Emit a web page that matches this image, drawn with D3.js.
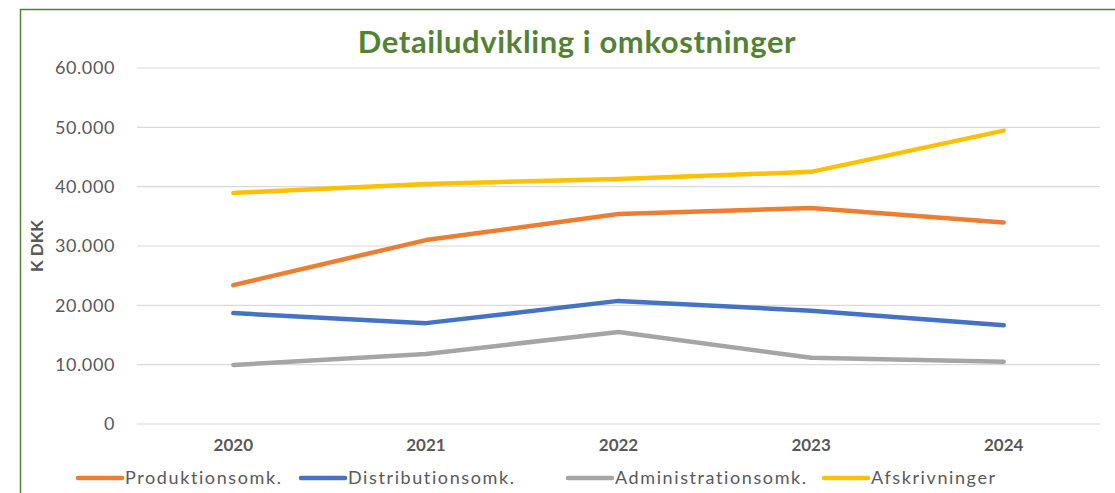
<!DOCTYPE html>
<html>
<head>
<meta charset="utf-8">
<script src="https://cdn.jsdelivr.net/npm/d3@7"></script>
<style>
  body { margin: 0; background: #fff; }
  svg { display: block; font-family: Lato, "Open Sans", sans-serif; }
</style>
</head>
<body>
<div id="chart"></div>
<script>
// data
const years = ["2020", "2021", "2022", "2023", "2024"];
const seriesNames = ["Produktionsomk.", "Distributionsomk.", "Administrationsomk.", "Afskrivninger"];
const produktion = [23400, 31000, 35400, 36400, 33950];
const distribution = [18700, 17000, 20750, 19100, 16650];
const administration = [9950, 11800, 15500, 11150, 10500];
const afskrivninger = [38950, 40450, 41300, 42500, 49450];
const yTicks = [0, 10000, 20000, 30000, 40000, 50000, 60000];
const colors = ["#ed7d31", "#4472c4", "#a5a5a5", "#ffc000"];

const allSeries = [produktion, distribution, administration, afskrivninger];

const W = 1115, H = 493;
const margin = { top: 68, right: 15, bottom: 69, left: 137 };
const width = 1100 - margin.left;
const height = 424 - margin.top;

const svg = d3.select("#chart").append("svg")
    .attr("width", W)
    .attr("height", H);

// chart border
svg.append("rect")
    .attr("x", 20.5).attr("y", 9.5)
    .attr("width", 1120).attr("height", 500)
    .attr("fill", "none")
    .attr("stroke", "#548235")
    .attr("stroke-width", 1.5);

svg.append("text")
    .attr("x", 577)
    .attr("y", 53)
    .attr("text-anchor", "middle")
    .style("font-size", "31px")
    .style("font-weight", "bold")
    .style("letter-spacing", "0.6px")
    .style("fill", "#548235")
    .text("Detailudvikling i omkostninger");

const g = svg.append("g")
    .attr("transform", `translate(${margin.left},${margin.top})`);

const x = d3.scaleBand().domain(years).range([0, width]);
const y = d3.scaleLinear().domain([0, 60000]).range([height, 0]);

const fmt = d => d === 0 ? "0" : d3.format(",")(d).replace(/,/g, ".");

// gridlines
g.append("g")
    .selectAll("line")
    .data(yTicks)
    .join("line")
    .attr("x1", 0).attr("x2", width)
    .attr("y1", d => y(d)).attr("y2", d => y(d))
    .attr("stroke", "#d9d9d9")
    .attr("stroke-width", 1.2);

const yAxis = g.append("g")
    .call(d3.axisLeft(y).tickValues(yTicks).tickFormat(fmt).tickSize(0).tickPadding(22));
yAxis.select(".domain").remove();
yAxis.selectAll("text")
    .style("font-size", "18px")
    .style("letter-spacing", "0.6px")
    .style("fill", "#595959")
    .style("font-family", "Lato, sans-serif");

const xAxis = g.append("g")
    .attr("transform", `translate(0,${height})`)
    .call(d3.axisBottom(x).tickSize(0).tickPadding(15));
xAxis.select(".domain").remove();
xAxis.selectAll("text")
    .style("font-size", "17px")
    .style("font-weight", "bold")
    .style("fill", "#595959")
    .style("font-family", "Lato, sans-serif");

svg.append("text")
    .attr("transform", "translate(43,246) rotate(-90)")
    .attr("text-anchor", "middle")
    .style("font-size", "17px")
    .style("font-weight", "bold")
    .style("fill", "#595959")
    .text("K DKK");

const line = d3.line()
    .x((d, i) => x(years[i]) + x.bandwidth() / 2)
    .y(d => y(d));

// draw grey first, then blue, orange, yellow on top
[2, 1, 0, 3].forEach(i => {
    g.append("path")
        .datum(allSeries[i])
        .attr("fill", "none")
        .attr("stroke", colors[i])
        .attr("stroke-width", 4.5)
        .attr("stroke-linecap", "round")
        .attr("stroke-linejoin", "round")
        .attr("d", line);
});

// legend
const legendX = [78, 301, 568, 824];
const legend = svg.append("g").attr("transform", "translate(0,478)");
seriesNames.forEach((name, i) => {
    legend.append("line")
        .attr("x1", legendX[i]).attr("x2", legendX[i] + 44)
        .attr("y1", 0).attr("y2", 0)
        .attr("stroke", colors[i])
        .attr("stroke-width", 4.5)
        .attr("stroke-linecap", "round");
    legend.append("text")
        .attr("x", legendX[i] + 47)
        .attr("y", 6)
        .style("font-size", "18px")
        .style("letter-spacing", "1.6px")
        .style("fill", "#595959")
        .text(name);
});
</script>
</body>
</html>
